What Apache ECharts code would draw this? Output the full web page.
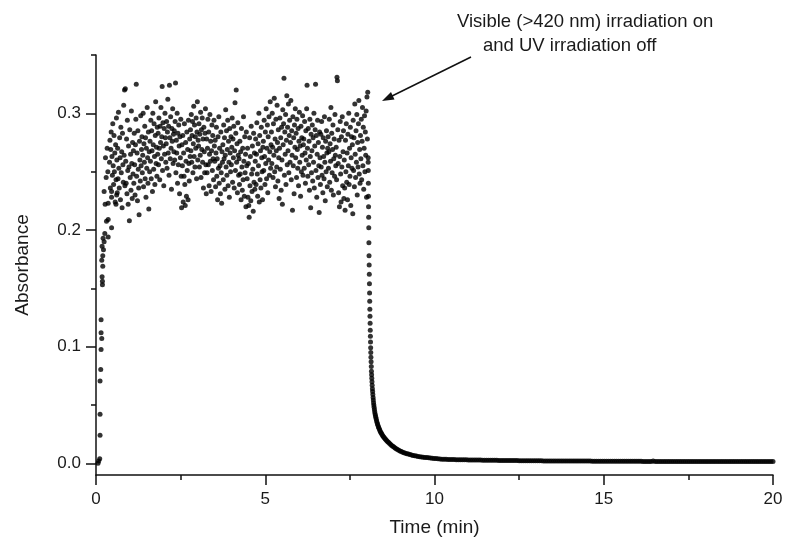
<!DOCTYPE html>
<html>
<head>
<meta charset="utf-8">
<script src="https://cdn.jsdelivr.net/npm/echarts@6/dist/echarts.min.js"></script>
<style>
html,body{margin:0;padding:0;background:#fff;}
#chart{width:787px;height:542px;}
</style>
</head>
<body>
<div id="chart"></div>
<script>
// ---- Data ----
// Initial rise (time in min, absorbance)
const riseTime = [0.06,0.08,0.11,0.12,0.12,0.12,0.14,0.15,0.17,0.15,0.15,0.19,0.19,0.18,0.20,0.17,0.20,0.22,0.18,0.24,0.21,0.26,0.36,0.46,0.31,0.36,0.27,0.36,0.59,0.24,0.46,0.61,0.30,0.35,0.28,0.33];
const riseAbs  = [0.000,0.002,0.004,0.024,0.042,0.0705,0.0805,0.0975,0.107,0.112,0.123,0.153,0.156,0.160,0.169,0.174,0.178,0.183,0.186,0.190,0.193,0.197,0.194,0.202,0.2075,0.209,0.222,0.223,0.222,0.233,0.233,0.230,0.245,0.250,0.262,0.270];

// Plateau under UV irradiation (evenly sampled between plateauStart and plateauEnd)
const plateauStart = 0.40;
const plateauEnd = 8.04;
const plateauAbs = [
0.258,0.277,0.236,0.269,0.284,0.228,0.263,0.247,0.291,0.255,0.239,0.281,0.250,0.266,0.224,0.273,0.243,0.296,0.260,0.232,
0.270,0.244,0.301,0.253,0.236,0.279,0.262,0.226,0.288,0.249,0.267,0.219,0.283,0.256,0.241,0.307,0.264,0.320,0.238,0.321,
0.259,0.240,0.278,0.231,0.294,0.251,0.222,0.272,0.254,0.208,0.286,0.245,0.265,0.234,0.302,0.257,0.227,0.275,0.248,0.268,
0.240,0.283,0.256,0.230,0.273,0.295,0.325,0.246,0.266,0.225,0.285,0.252,0.236,0.213,0.276,0.260,0.242,0.298,0.255,0.269,
0.280,0.249,0.264,0.300,0.237,0.274,0.258,0.289,0.244,0.279,0.228,0.270,0.253,0.305,0.262,0.240,0.284,0.218,0.267,0.250,
0.276,0.259,0.294,0.244,0.285,0.268,0.233,0.300,0.273,0.252,0.291,0.263,0.239,0.281,0.310,0.257,0.271,0.246,0.288,0.265,
0.283,0.256,0.296,0.270,0.243,0.289,0.275,0.305,0.261,0.280,0.323,0.251,0.292,0.272,0.238,0.287,0.265,0.300,0.279,0.258,
0.274,0.293,0.253,0.284,0.312,0.266,0.289,0.247,0.324,0.279,0.261,0.297,0.270,0.235,0.287,0.276,0.304,0.257,0.282,0.267,
0.285,0.260,0.293,0.326,0.249,0.277,0.266,0.300,0.240,0.283,0.256,0.290,0.272,0.231,0.280,0.262,0.295,0.246,0.219,0.273,
0.255,0.281,0.224,0.266,0.246,0.291,0.239,0.221,0.275,0.259,0.229,0.284,0.251,0.269,0.226,0.294,0.257,0.242,0.278,0.263,
0.286,0.268,0.299,0.258,0.281,0.293,0.249,0.274,0.306,0.263,0.290,0.254,0.280,0.270,0.296,0.244,0.284,0.310,0.260,0.277,
0.272,0.291,0.254,0.282,0.264,0.301,0.245,0.286,0.269,0.296,0.258,0.278,0.236,0.288,0.267,0.249,0.283,0.304,0.256,0.231,
0.278,0.249,0.270,0.295,0.256,0.284,0.238,0.265,0.299,0.259,0.276,0.233,0.268,0.290,0.251,0.281,0.261,0.243,0.294,0.272,
0.259,0.277,0.237,0.266,0.288,0.246,0.261,0.226,0.280,0.253,0.297,0.240,0.270,0.255,0.231,0.284,0.249,0.223,0.267,0.258,
0.273,0.243,0.290,0.261,0.279,0.235,0.264,0.303,0.254,0.285,0.247,0.269,0.294,0.238,0.276,0.258,0.228,0.287,0.266,0.250,
0.280,0.256,0.271,0.296,0.241,0.278,0.262,0.289,0.236,0.268,0.309,0.251,0.283,0.320,0.258,0.274,0.232,0.292,0.264,0.247,
0.261,0.239,0.276,0.248,0.267,0.226,0.287,0.254,0.234,0.270,0.243,0.297,0.259,0.229,0.280,0.249,0.265,0.220,0.284,0.255,
0.244,0.270,0.228,0.257,0.221,0.211,0.279,0.238,0.263,0.225,0.289,0.248,0.233,0.272,0.252,0.216,0.283,0.241,0.266,0.235,
0.259,0.278,0.239,0.265,0.292,0.248,0.229,0.274,0.255,0.300,0.224,0.281,0.243,0.268,0.236,0.288,0.262,0.250,0.226,0.271,
0.276,0.251,0.294,0.263,0.239,0.284,0.257,0.304,0.244,0.270,0.290,0.232,0.280,0.260,0.297,0.247,0.267,0.310,0.253,0.273,
0.284,0.257,0.300,0.271,0.245,0.291,0.264,0.313,0.250,0.278,0.237,0.295,0.268,0.254,0.307,0.275,0.242,0.286,0.262,0.227,
0.270,0.296,0.252,0.279,0.234,0.288,0.260,0.222,0.303,0.273,0.291,0.330,0.247,0.284,0.265,0.299,0.239,0.277,0.315,0.256,
0.288,0.268,0.308,0.249,0.281,0.294,0.258,0.275,0.311,0.243,0.285,0.264,0.217,0.297,0.255,0.279,0.231,0.290,0.271,0.304,
0.262,0.283,0.245,0.295,0.269,0.253,0.287,0.238,0.276,0.301,0.258,0.272,0.229,0.289,0.250,0.279,0.264,0.298,0.247,0.273,
0.278,0.253,0.293,0.266,0.240,0.285,0.260,0.304,0.324,0.270,0.246,0.287,0.256,0.276,0.234,0.295,0.263,0.219,0.282,0.249,
0.268,0.290,0.242,0.279,0.258,0.300,0.236,0.272,0.286,0.325,0.251,0.281,0.228,0.265,0.294,0.245,0.275,0.255,0.215,0.284,
0.262,0.239,0.282,0.254,0.293,0.247,0.271,0.232,0.279,0.263,0.244,0.297,0.258,0.225,0.276,0.250,0.285,0.266,0.237,0.270,
0.280,0.253,0.267,0.295,0.241,0.274,0.259,0.305,0.234,0.283,0.249,0.269,0.290,0.230,0.261,0.278,0.246,0.299,0.264,0.255,
0.271,0.243,0.331,0.328,0.286,0.257,0.232,0.277,0.220,0.263,0.293,0.248,0.224,0.280,0.254,0.297,0.238,0.267,0.285,0.227,
0.260,0.236,0.217,0.277,0.250,0.291,0.241,0.266,0.226,0.282,0.255,0.300,0.239,0.270,0.246,0.288,0.221,0.262,0.280,0.253,
0.273,0.214,0.294,0.251,0.279,0.237,0.308,0.265,0.245,0.285,0.258,0.299,0.230,0.275,0.254,0.291,0.311,0.248,0.269,0.240,
0.281,0.261,0.295,0.243,0.276,0.305,0.255,0.288,0.235,0.270,0.298,0.250,0.284,0.264,0.302,0.228,0.314,0.278,0.318,0.258
];

// Decay after switching to visible light (time in min, absorbance)
const decayTime = [8.040,8.043,8.046,8.049,8.052,8.055,8.058,8.062,8.066,8.070,8.074,8.078,8.082,8.086,8.090,8.094,8.098,8.102,8.106,8.110,
8.114,8.118,8.122,8.127,8.132,8.137,8.142,8.147,8.153,8.159,8.165,8.172,8.179,8.186,8.193,8.200,8.208,8.216,8.225,8.234,
8.244,8.255,8.266,8.278,8.290,8.303,8.316,8.330,8.345,8.360,8.376,8.393,8.411,8.430,8.450,8.471,8.493,8.516,8.540,8.565,
8.591,8.618,8.646,8.675,8.705,8.736,8.768,8.801,8.835,8.870,8.906,8.943,8.981,9.020,9.060,9.101,9.143,9.186,9.230,9.275,
9.321,9.368,9.416,9.465,9.515,9.566,9.618,9.670,9.722,9.775,9.828,9.882,9.936,9.990,10.045,10.10,10.16,10.22,10.28,10.34];
const decayAbs = [0.262,0.251,0.240,0.229,0.220,0.211,0.202,0.189,0.178,0.170,0.162,0.154,0.146,0.139,0.132,0.126,0.120,0.114,0.109,0.104,
0.099,0.095,0.091,0.087,0.083,0.079,0.076,0.073,0.070,0.067,0.064,0.0615,0.059,0.0565,0.0542,0.0520,0.0500,0.0480,0.0461,0.0443,
0.0426,0.0410,0.0394,0.0379,0.0365,0.0351,0.0338,0.0325,0.0312,0.0300,0.0289,0.0278,0.0267,0.0257,0.0247,0.0237,0.0228,0.0219,0.0210,0.0202,
0.0194,0.0186,0.0178,0.0169,0.0161,0.0153,0.0146,0.0139,0.0132,0.0125,0.0118,0.0112,0.0106,0.0101,0.0096,0.0091,0.0087,0.0083,0.0079,0.0075,
0.0071,0.0068,0.0065,0.0062,0.0059,0.0057,0.0055,0.0053,0.0051,0.0049,0.0047,0.0045,0.0044,0.0042,0.0041,0.0039,0.0038,0.0036,0.0035,0.0034];

// Baseline tail (evenly sampled from tailStart to tailEnd)
const tailStart = 10.40;
const tailEnd = 20.00;
const tailAbs = [
0.0033,0.0033,0.0032,0.0032,0.0031,0.0031,0.0031,0.0030,0.0030,0.0030,0.0029,0.0029,0.0029,0.0028,0.0028,0.0028,0.0028,0.0027,0.0027,0.0027,
0.0027,0.0026,0.0026,0.0026,0.0026,0.0025,0.0025,0.0025,0.0025,0.0025,0.0024,0.0024,0.0024,0.0024,0.0024,0.0023,0.0023,0.0023,0.0023,0.0023,
0.0023,0.0022,0.0022,0.0022,0.0022,0.0022,0.0022,0.0021,0.0021,0.0021,0.0021,0.0021,0.0021,0.0021,0.0020,0.0020,0.0020,0.0020,0.0020,0.0020,
0.0020,0.0020,0.0019,0.0019,0.0019,0.0019,0.0019,0.0019,0.0019,0.0019,0.0019,0.0018,0.0018,0.0018,0.0018,0.0018,0.0018,0.0018,0.0018,0.0018,
0.0018,0.0018,0.0017,0.0017,0.0017,0.0017,0.0017,0.0017,0.0017,0.0017,0.0017,0.0017,0.0017,0.0017,0.0017,0.0017,0.0016,0.0016,0.0016,0.0016,
0.0016,0.0019,0.0016,0.0016,0.0016,0.0016,0.0016,0.0016,0.0016,0.0016,0.0016,0.0016,0.0016,0.0016,0.0016,0.0016,0.0016,0.0016,0.0016,0.0016,
0.0016,0.0015,0.0015,0.0015,0.0015,0.0015,0.0015,0.0015,0.0015,0.0015,0.0015,0.0015,0.0015,0.0015,0.0015,0.0015,0.0015,0.0015,0.0015,0.0015,
0.0015,0.0015,0.0015,0.0015,0.0015,0.0015,0.0015,0.0015,0.0015,0.0015,0.0015,0.0015,0.0015,0.0015,0.0015,0.0015,0.0015,0.0015,0.0015,0.0015,
0.0015
];

// Axis tick labels
const xTicks = [0, 5, 10, 15, 20];
const yMajorTicks = [0, 0.1, 0.2, 0.3];
const yMinorTicks = [0.05, 0.15, 0.25, 0.35];
const xAxisName = 'Time (min)';
const yAxisName = 'Absorbance';
const noteLines = ['Visible (>420 nm) irradiation on', 'and UV irradiation off'];

// ---- Build the point table ----
const points = [];
riseTime.forEach((t, i) => points.push([t, riseAbs[i]]));
const pStep = (plateauEnd - plateauStart) / (plateauAbs.length - 1);
plateauAbs.forEach((v, i) => points.push([plateauStart + i * pStep, v]));
decayTime.forEach((t, i) => points.push([t, decayAbs[i]]));
const tStep = (tailEnd - tailStart) / (tailAbs.length - 1);
tailAbs.forEach((v, i) => points.push([tailStart + i * tStep, v]));

const FONT = '"Liberation Sans", Arial, Helvetica, sans-serif';
const TXT = '#1a1a1a';

const chart = echarts.init(document.getElementById('chart'), null, {renderer: 'canvas'});
chart.setOption({
  animation: false,
  backgroundColor: '#fff',
  grid: {left: 96, right: 14, top: 55, bottom: 64, containLabel: false},
  xAxis: {
    type: 'value', min: xTicks[0], max: xTicks[xTicks.length - 1], interval: 5,
    name: xAxisName, nameLocation: 'middle', nameGap: 43,
    nameTextStyle: {fontFamily: FONT, fontSize: 19, color: TXT},
    axisLine: {onZero: false, lineStyle: {color: '#111', width: 1.5}},
    axisTick: {show: true, inside: false, length: 10, lineStyle: {color: '#111', width: 1.5}},
    minorTick: {show: true, splitNumber: 2, length: 5, lineStyle: {color: '#111', width: 1.5}},
    axisLabel: {fontFamily: FONT, fontSize: 17, color: TXT, margin: 16},
    splitLine: {show: false}
  },
  yAxis: [{
    type: 'value', min: -0.01, max: 0.35, position: 'left',
    name: yAxisName, nameLocation: 'middle', nameGap: 64, nameRotate: 90,
    nameTextStyle: {fontFamily: FONT, fontSize: 19, color: TXT},
    axisLine: {show: true, lineStyle: {color: '#111', width: 1.5}},
    axisTick: {show: true, inside: false, length: 10, customValues: yMajorTicks, lineStyle: {color: '#111', width: 1.5}},
    axisLabel: {fontFamily: FONT, fontSize: 17, color: TXT, margin: 15, customValues: yMajorTicks,
      formatter: v => Number(v).toFixed(1)},
    splitLine: {show: false}
  }, {
    type: 'value', min: -0.01, max: 0.35, position: 'left',
    axisLine: {show: false},
    axisTick: {show: true, inside: false, length: 5, customValues: yMinorTicks, lineStyle: {color: '#111', width: 1.5}},
    axisLabel: {show: false},
    splitLine: {show: false}
  }],
  graphic: [
    {type: 'text', left: 457, top: 12, style: {text: noteLines[0], font: '18.5px ' + FONT, fill: TXT}},
    {type: 'text', left: 483, top: 36, style: {text: noteLines[1], font: '18.5px ' + FONT, fill: TXT}},
    {type: 'line', shape: {x1: 471, y1: 57, x2: 390, y2: 97}, style: {stroke: '#111', lineWidth: 1.5}},
    {type: 'polygon', shape: {points: [[382, 101], [394.5, 99.5], [391, 92]]}, style: {fill: '#111'}}
  ],
  series: [{
    type: 'scatter',
    data: points,
    symbol: 'circle',
    symbolSize: 5,
    itemStyle: {color: '#000'},
    clip: false,
    large: false
  }]
});
</script>
</body>
</html>
